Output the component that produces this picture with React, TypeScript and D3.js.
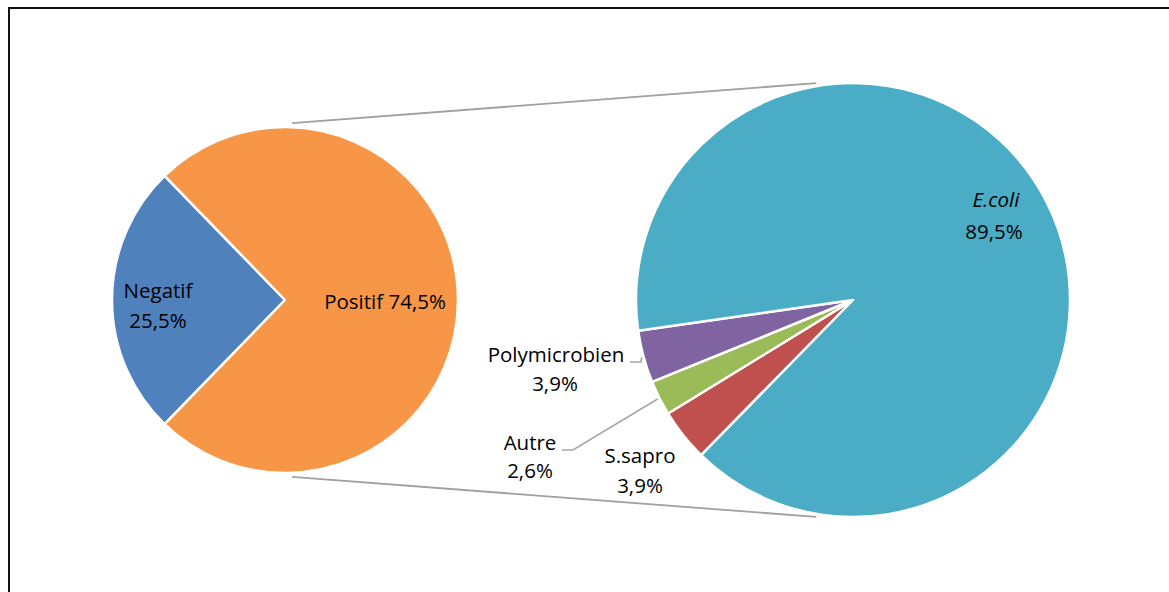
import React from "react";
import * as d3 from "d3";

const mainLabels = ["Negatif", "Positif"];
const mainValues = [25.5, 74.5];
const mainColors = ["#4F81BD", "#F79646"];

const subLabels = ["S.sapro", "Autre", "Polymicrobien", "E.coli"];
const subValues = [3.9, 2.6, 3.9, 89.5];
const subColors = ["#C0504D", "#9BBB59", "#8064A2", "#4BACC6"];

const fmt = (v: number) => v.toFixed(1).replace(".", ",") + "%";

const W = 1169;
const H = 592;
const FONT = "'Open Sans', 'Noto Sans', sans-serif";
const FS = 20.5;

const deg = (d: number) => (d * Math.PI) / 180;

export default function App() {
  const c1 = { x: 285, y: 300, r: 173 };
  const c2 = { x: 853, y: 300, r: 217 };

  const total1 = d3.sum(mainValues);
  const negSpan = (mainValues[0] / total1) * 360;
  const pie1 = d3
    .pie<number>()
    .sort(null)
    .startAngle(deg(270 - negSpan / 2))
    .endAngle(deg(270 - negSpan / 2 + 360));
  const arcs1 = pie1(mainValues);
  const arc1 = d3.arc<d3.PieArcDatum<number>>().innerRadius(0).outerRadius(c1.r);

  const pie2 = d3
    .pie<number>()
    .sort(null)
    .startAngle(deg(224.4))
    .endAngle(deg(224.4 + 360));
  const arcs2 = pie2(subValues);
  const arc2 = d3.arc<d3.PieArcDatum<number>>().innerRadius(0).outerRadius(c2.r);

  const polar = (c: { x: number; y: number }, r: number, a: number) => [
    c.x + r * Math.sin(a),
    c.y - r * Math.cos(a),
  ];

  // connector lines (pie-of-pie)
  const topA = polar(c1, c1.r + 4, deg(2.3));
  const topB = polar(c2, c2.r + 3, deg(-9.6));
  const botA = polar(c1, c1.r + 4, deg(180 - 2.3));
  const botB = polar(c2, c2.r + 3, deg(180 + 9.6));

  const midAngle = (d: d3.PieArcDatum<number>) => (d.startAngle + d.endAngle) / 2;
  const polyArc = arcs2[2];
  const autreArc = arcs2[1];
  const polyTip = polar(c2, c2.r + 2, midAngle(polyArc));
  const autreTip = polar(c2, c2.r + 2, midAngle(autreArc));

  const text = (x: number, y: number, s: string, italic = false) => (
    <text
      x={x}
      y={y}
      textAnchor="middle"
      fontFamily={FONT}
      fontSize={FS}
      fontStyle={italic ? "italic" : "normal"}
      fill="#000"
    >
      {s}
    </text>
  );

  return (
    <svg
      width={W}
      height={H}
      style={{ position: "absolute", left: 0, top: 0, background: "#fff" }}
    >
      <rect x={0} y={0} width={W} height={H} fill="#fff" />
      <rect x={9} y={8} width={W + 50} height={H + 50} fill="none" stroke="#111" strokeWidth={2} />

      <g stroke="#A0A0A0" strokeWidth={1.8} fill="none">
        <line x1={topA[0]} y1={topA[1]} x2={topB[0]} y2={topB[1]} />
        <line x1={botA[0]} y1={botA[1]} x2={botB[0]} y2={botB[1]} />
      </g>

      <g transform={`translate(${c1.x},${c1.y})`}>
        {arcs1.map((a, i) => (
          <path key={i} d={arc1(a) || ""} fill={mainColors[i]} stroke="#fff" strokeWidth={2.5} strokeLinejoin="round" />
        ))}
      </g>
      <g transform={`translate(${c2.x},${c2.y})`}>
        {arcs2.map((a, i) => (
          <path key={i} d={arc2(a) || ""} fill={subColors[i]} stroke="#fff" strokeWidth={2.5} strokeLinejoin="round" />
        ))}
      </g>

      <g stroke="#A6A6A6" strokeWidth={1.6} fill="none">
        <polyline points={`630,362 641,362 ${polyTip[0]},${polyTip[1]}`} />
        <polyline points={`562,450 573,450 ${autreTip[0]},${autreTip[1]}`} />
      </g>

      {text(158, 298, mainLabels[0])}
      {text(158, 328, fmt(mainValues[0]))}
      {text(385, 309, `${mainLabels[1]} ${fmt(mainValues[1])}`)}

      {text(996, 207, subLabels[3], true)}
      {text(994, 239, fmt(subValues[3]))}
      {text(556, 362, subLabels[2])}
      {text(555, 391, fmt(subValues[2]))}
      {text(530, 450, subLabels[1])}
      {text(530, 478, fmt(subValues[1]))}
      {text(640, 463, subLabels[0])}
      {text(640, 493, fmt(subValues[0]))}
    </svg>
  );
}
